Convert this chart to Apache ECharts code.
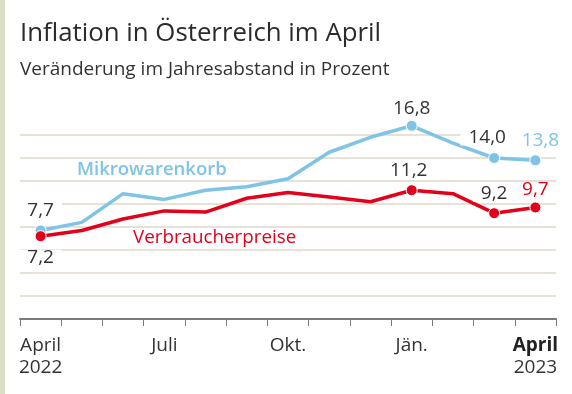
<!DOCTYPE html>
<html>
<head>
<meta charset="utf-8">
<script src="https://cdn.jsdelivr.net/npm/echarts@6/dist/echarts.min.js"></script>
<style>
html,body{margin:0;padding:0;background:#fff;}
#c{width:572px;height:394px;}
</style>
</head>
<body>
<div id="c"></div>
<script>
const categories = ['April 2022','Mai','Juni','Juli','August','September','Oktober','November','Dezember','Jänner 2023','Februar','März','April 2023'];
const tickLabels = ['April\n2022','','','Juli','','','Okt.','','','Jän.','','','April\n2023'];
const mikrowarenkorb = [7.7, 8.4, 10.9, 10.4, 11.2, 11.5, 12.2, 14.5, 15.8, 16.8, 15.3, 14.0, 13.8];
const verbraucherpreise = [7.2, 7.7, 8.7, 9.4, 9.3, 10.5, 11.0, 10.6, 10.2, 11.2, 10.9, 9.2, 9.7];
const labeledIndex = [0, 9, 11, 12];
const seriesNames = ['Mikrowarenkorb', 'Verbraucherpreise'];
const titleText = 'Inflation in Österreich im April';
const subtitleText = 'Veränderung im Jahresabstand in Prozent';

const FONT = '"Open Sans", "Noto Sans", sans-serif';
const BLUE = '#7fc4e5';
const RED = '#e2001a';
const DARK = '#333333';

function fmt(v){ return v.toFixed(1).replace('.', ','); }

const blueLabel = {
  0:  {position:'top', offset:[0,-1], color:DARK},
  9:  {position:'top', offset:[0,1], color:DARK},
  11: {position:'top', offset:[-7,-2], color:DARK},
  12: {position:'top', offset:[5,-1], color:BLUE}
};
const redLabel = {
  0:  {position:'bottom', offset:[0,3], color:DARK},
  9:  {position:'top', offset:[-3,-1], color:DARK},
  11: {position:'top', offset:[0,-1], color:DARK},
  12: {position:'top', offset:[0,1], color:RED}
};

function buildData(values, color, labelCfg){
  return values.map((v, i) => {
    if (labeledIndex.indexOf(i) < 0) {
      return {value: v, symbol: 'none'};
    }
    const c = labelCfg[i];
    return {
      value: v,
      symbol: 'circle',
      symbolSize: 11,
      itemStyle: {color: color, borderColor: '#fff', borderWidth: 1},
      label: {
        show: true,
        position: c.position,
        offset: c.offset,
        distance: 4.5,
        formatter: p => fmt(p.value),
        color: c.color,
        fontFamily: FONT,
        fontSize: 19,
        lineHeight: 16,
        backgroundColor: '#fff',
        padding: [0, 8]
      }
    };
  });
}

const chart = echarts.init(document.getElementById('c'), null, {renderer:'canvas'});
chart.setOption({
  animation: false,
  backgroundColor: '#fff',
  title: [
    {text: titleText, left: 20, top: 21, padding: 0,
     textStyle: {fontFamily: FONT, fontSize: 25.8, fontWeight: 'normal', color: '#2b2b2b', lineHeight: 26}},
    {text: subtitleText, left: 20, top: 60, padding: 0,
     textStyle: {fontFamily: FONT, fontSize: 19, fontWeight: 'normal', color: DARK, lineHeight: 19}}
  ],
  graphic: [
    {type:'rect', left: 0, top: 0, shape:{width:5, height:394}, style:{fill:'#d9dfc4'}, silent:true},
    {type:'text', x: 77, y: 169.5, style:{text: seriesNames[0], fill: BLUE, font: '600 18.5px ' + FONT, verticalAlign:'middle', align:'left'}, z: 10},
    {type:'text', x: 133, y: 238, style:{text: seriesNames[1], fill: RED, font: '500 18.8px ' + FONT, verticalAlign:'middle', align:'left'}, z: 10}
  ],
  grid: {left: 20, right: 16, top: 135, bottom: 75, containLabel: false},
  xAxis: {
    type: 'category',
    data: categories,
    boundaryGap: true,
    axisLine: {show: true, lineStyle: {color: '#7a7a7a', width: 2}},
    axisTick: {show: true, length: 7, lineStyle: {color: '#7a7a7a', width: 1}, interval: 0},
    splitLine: {show: false},
    axisLabel: {
      interval: 0,
      margin: 16,
      formatter: (val, idx) => {
        const t = tickLabels[idx];
        if (!t) return '';
        const parts = t.split('\n');
        if (idx === tickLabels.length - 1) {
          return '{b|' + parts[0] + '}\n{n|' + parts[1] + '}';
        }
        return parts.map(p => '{n|' + p + '}').join('\n');
      },
      rich: {
        n: {fontFamily: FONT, fontSize: 19, color: DARK, lineHeight: 22},
        b: {fontFamily: FONT, fontSize: 19, fontWeight: 'bold', color: '#222', lineHeight: 22}
      }
    }
  },
  yAxis: {
    type: 'value',
    min: 0, max: 16, interval: 2,
    axisLine: {show: false},
    axisTick: {show: false},
    axisLabel: {show: false},
    splitLine: {show: true, lineStyle: {color: '#e0d9c8', width: 1.5}}
  },
  series: [
    {
      name: seriesNames[0], type: 'line', clip: false,
      data: buildData(mikrowarenkorb, BLUE, blueLabel),
      lineStyle: {color: BLUE, width: 3.5},
      itemStyle: {color: BLUE},
      showSymbol: true, symbol: 'circle', symbolSize: 11,
      z: 3
    },
    {
      name: seriesNames[1], type: 'line', clip: false,
      data: buildData(verbraucherpreise, RED, redLabel),
      lineStyle: {color: RED, width: 3.5},
      itemStyle: {color: RED},
      showSymbol: true, symbol: 'circle', symbolSize: 11,
      z: 4
    }
  ]
});
</script>
</body>
</html>
